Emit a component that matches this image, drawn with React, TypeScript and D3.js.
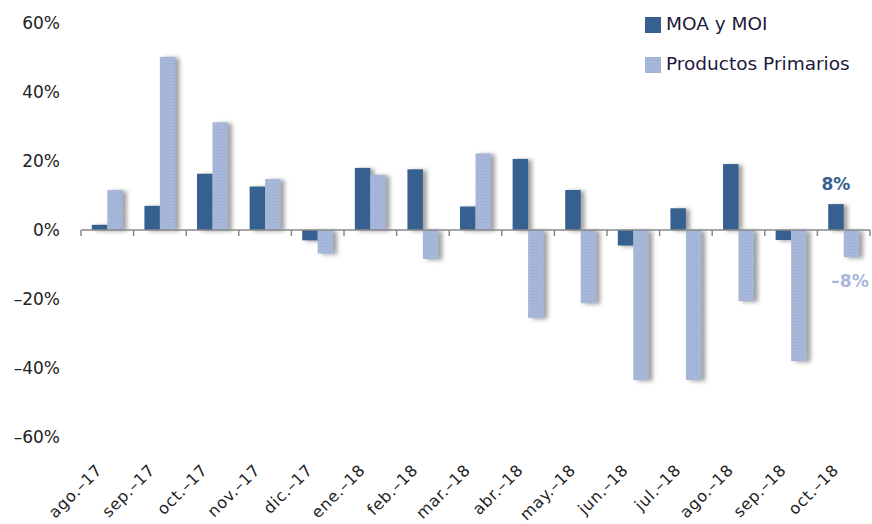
import React from "react";
import * as d3 from "d3";

const categories = ["ago.–17","sep.–17","oct.–17","nov.–17","dic.–17","ene.–18","feb.–18","mar.–18","abr.–18","may.–18","jun.–18","jul.–18","ago.–18","sep.–18","oct.–18"];
const moaMoi = [1.5, 7, 16.3, 12.6, -3, 18, 17.6, 6.8, 20.6, 11.6, -4.5, 6.3, 19.1, -2.9, 7.5];
const primarios = [11.6, 50.2, 31.2, 14.8, -6.8, 16, -8.4, 22.2, -25.5, -21.2, -43.5, -43.5, -20.6, -38, -7.9];
const yTicks = [-60, -40, -20, 0, 20, 40, 60];
const seriesNames = ["MOA y MOI", "Productos Primarios"];
const colors = ["#36608f", "#a7b7da"];

const W = 872, H = 524;
const FONT = "'DejaVu Sans', Verdana, sans-serif";

export default function App() {
  const x = d3.scaleBand<string>().domain(categories).range([81, 870]).paddingInner(0).paddingOuter(0);
  const y = d3.scaleLinear().domain([-60, 60]).range([437, 23]);
  const inner = d3.scaleBand<number>().domain([0, 1]).range([0, x.bandwidth()]).paddingOuter(0.7).paddingInner(0);
  const fmt = (v: number) => (v < 0 ? "–" : "") + Math.abs(v) + "%";
  const last = categories.length - 1;

  return (
    <svg width={W} height={H} style={{ position: "absolute", left: 0, top: 0, background: "#fff" }}>
      <defs>
        <filter id="sh" x="-50%" y="-20%" width="200%" height="140%">
          <feDropShadow dx="4" dy="1" stdDeviation="2" floodColor="#777" floodOpacity="0.7" />
        </filter>
        <pattern id="dots" width="3" height="3" patternUnits="userSpaceOnUse">
          <rect width="3" height="3" fill={colors[1]} />
          <rect width="1" height="1" fill="#9aabd2" />
        </pattern>
      </defs>
      {yTicks.map((t) => (
        <text key={t} x={60} y={y(t)} dy="0.35em" textAnchor="end" fontFamily={FONT} fontSize={17} fill="#222">
          {fmt(t)}
        </text>
      ))}
      <g filter="url(#sh)">
        {categories.map((c, i) =>
          [moaMoi[i], primarios[i]].map((v, s) => (
            <rect
              key={c + s}
              x={(x(c) as number) + (inner(s) as number)}
              width={inner.bandwidth()}
              y={Math.min(y(v), y(0))}
              height={Math.abs(y(v) - y(0))}
              fill={s === 0 ? colors[0] : "url(#dots)"}
            />
          ))
        )}
      </g>
      <line x1={81} x2={870} y1={y(0)} y2={y(0)} stroke="#888" strokeWidth={1.5} />
      {categories.map((c) => (
        <line key={"t" + c} x1={x(c) as number} x2={x(c) as number} y1={y(0)} y2={y(0) + 6} stroke="#888" strokeWidth={1.5} />
      ))}
      <line x1={870} x2={870} y1={y(0)} y2={y(0) + 6} stroke="#888" strokeWidth={1.5} />
      {categories.map((c) => {
        const cx = (x(c) as number) + x.bandwidth() / 2;
        return (
          <text key={"l" + c} transform={`translate(${cx - 4},${471}) rotate(-45)`} textAnchor="end" fontFamily={FONT} fontSize={16} letterSpacing={0.7} fill="#222">
            {c}
          </text>
        );
      })}
      <text x={(x(categories[last]) as number) + (inner(0) as number) + inner.bandwidth() / 2} y={y(moaMoi[last]) - 14} textAnchor="middle" fontFamily={FONT} fontSize={17} fontWeight="bold" fill={colors[0]}>
        {Math.round(moaMoi[last])}%
      </text>
      <text x={850} y={y(primarios[last]) + 30} textAnchor="middle" fontFamily={FONT} fontSize={17} fontWeight="bold" fill={colors[1]}>
        –{Math.round(Math.abs(primarios[last]))}%
      </text>
      {seriesNames.map((n, i) => (
        <g key={n} transform={`translate(645,${[17, 57][i]})`}>
          <rect width={16} height={16} fill={i === 0 ? colors[0] : "url(#dots)"} />
          <text x={21} y={13} fontFamily={FONT} fontSize={18.5} fill="#1e1a3c">{n}</text>
        </g>
      ))}
    </svg>
  );
}
